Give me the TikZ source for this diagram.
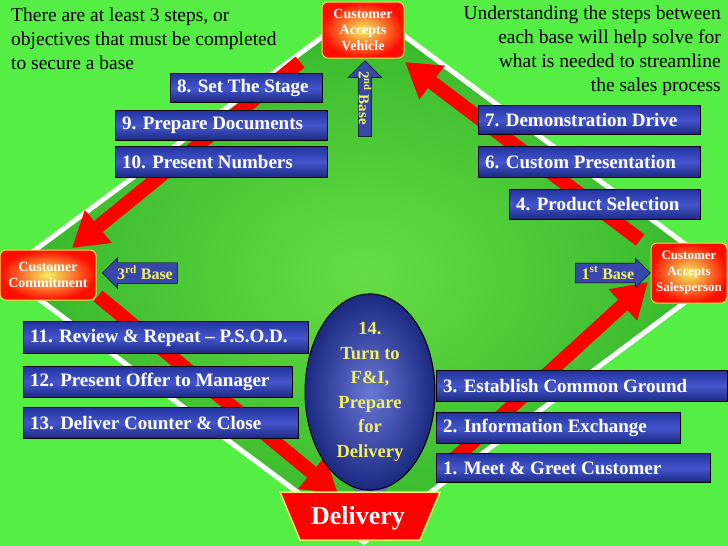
\documentclass[tikz,border=0pt]{standalone}
\usepackage{fontspec}
\setmainfont{Liberation Serif}
\usetikzlibrary{shapes.geometric,shapes.arrows,arrows.meta}
\definecolor{bgg}{HTML}{55EE44}
\definecolor{fieldg}{HTML}{33B52A}
\definecolor{fieldc}{HTML}{66DD44}
\definecolor{bx}{HTML}{2233A0}
\definecolor{bxl}{HTML}{4455CC}
\definecolor{ylw}{HTML}{F2F060}
\tikzset{
 stepbox/.style={draw=black,line width=1pt,top color=bx,bottom color=bx!80!black,middle color=bxl,
   anchor=north west,inner sep=0pt},
 steptext/.style={text=white,font=\bfseries\fontsize{19}{21}\selectfont,anchor=west,inner sep=0pt},
 basebox/.style={draw=ylw!80!orange,line width=1pt,rounded corners=6pt,inner color=ylw,outer color=red!90!orange,
   text=white,font=\bfseries\fontsize{14}{16}\selectfont,align=center,inner sep=1pt},
 redarrow/.style={red,line width=14pt,-{Triangle[length=34pt,width=40pt]}},
 basearrow/.style={single arrow,draw=black,fill=bx!90!white,text=ylw,font=\bfseries\fontsize{16}{18}\selectfont,
   single arrow head extend=5pt,inner sep=3pt,minimum height=75pt,minimum width=30pt},
 note/.style={font=\fontsize{19.5}{24}\selectfont,align=left,inner sep=0pt}
}
\begin{document}
\begin{tikzpicture}[x=1pt,y=-1pt]
\useasboundingbox (0,0) rectangle (728,546);
\fill[bgg] (0,0) rectangle (728,546);
\coordinate (T) at (364,6); \coordinate (R) at (724,273); \coordinate (B) at (364,542); \coordinate (L) at (4,273);
\shade[inner color=fieldc,outer color=fieldg] (T) -- (R) -- (B) -- (L) -- cycle;
\draw[white,line width=5pt] (T) -- (R) -- (B) -- (L) -- cycle;
% red arrows
\coordinate (a1s) at (440,472); \coordinate (a1e) at (648,282);
\coordinate (a2s) at (640,240); \coordinate (a2e) at (405,62);
\coordinate (a3s) at (300,62);  \coordinate (a3e) at (72,248);
\coordinate (a4s) at (98,296);  \coordinate (a4e) at (338,494);
\draw[redarrow] (a1s) -- (a1e);
\draw[redarrow] (a2s) -- (a2e);
\draw[redarrow] (a3s) -- (a3e);
\draw[redarrow] (a4s) -- (a4e);
% texts
\node[note,anchor=north west] (tl) at (11,8) {There are at least 3 steps, or\\objectives that must be completed\\to secure a base};
\node[note,anchor=north east,align=right] (tr) at (721,6) {Understanding the steps between\\each base will help solve for\\what is needed to streamline\\the sales process};
% step boxes
\foreach \a/\b/\c/\d/\n/\t in {170/73/322/102/s8/{8. Set The Stage},115/110/327/140/s9/{9. Prepare Documents},115/146/327/177/s10/{10. Present Numbers},
 478/105/700/134/s7/{7. Demonstration Drive},478/146/700/177/s6/{6. Custom Presentation},509/189/700/219/s4/{4. Product Selection},
 23/321/308/353/s11/{11. Review \& Repeat -- P.S.O.D.},23/366/292/397/s12/{12. Present Offer to Manager},23/407/298/438/s13/{13. Deliver Counter \& Close},
 436/370/727/401/s3/{3. Establish Common Ground},436/412/680/443/s2/{2. Information Exchange},436/453/710/482/s1/{1. Meet \& Greet Customer}}
 {\node[stepbox,minimum width=\c-\a,minimum height=\d-\b] (\n) at (\a,\b) {};
  \node[steptext] (\n t) at ([xshift=7pt]\n.west) {\t};}
% bases
\node[basebox,minimum width=82pt,minimum height=56pt] (cv) at (363,30) {Customer\\Accepts\\Vehicle};
\node[basebox,minimum width=96pt,minimum height=50pt] (cc) at (48,275) {Customer\\Commitment};
\node[basebox,minimum width=76pt,minimum height=60pt,font=\bfseries\fontsize{13}{16}\selectfont] (cs) at (689,273) {Customer\\Accepts\\Salesperson};
\node[basearrow,shape border rotate=90,minimum height=76pt,minimum width=34pt] (b2) at (365,102) {};
\node[text=ylw,font=\bfseries\fontsize{15}{17}\selectfont,rotate=-90] (b2t) at ([yshift=4pt]b2) {2\textsuperscript{nd} Base};
\node[basearrow,shape border rotate=180] (b3) at (145,273) {3\textsuperscript{rd} Base};
\node[basearrow] (b1) at (608,273) {1\textsuperscript{st} Base};
% ellipse and delivery
\node[single arrow,shape border rotate=270,draw=black!60,fill=bx!70!white,minimum width=40pt,minimum height=34pt,single arrow head extend=8pt,inner sep=0pt] (da) at (370,488) {};
\node[ellipse,draw=black,line width=1pt,inner color=bxl!80!white,outer color=bx!80!black,minimum width=130pt,minimum height=178pt,
  text=ylw,font=\bfseries\fontsize{18.5}{24.5}\selectfont,align=center,inner sep=0pt] (fi) at (370,392) {14.\\Turn to\\F\&I,\\Prepare\\for\\Delivery};
\fill[red,draw=ylw,line width=1.5pt] (280,492) -- (440,492) -- (420,540) -- (300,540) -- cycle;
\node[text=white,font=\bfseries\fontsize{26}{28}\selectfont] (dl) at (358,518) {Delivery};
\end{tikzpicture}
\end{document}
